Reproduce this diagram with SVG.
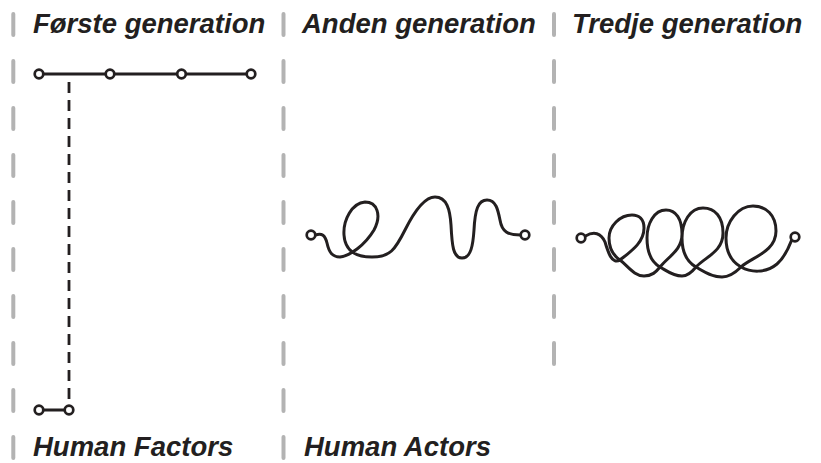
<svg xmlns="http://www.w3.org/2000/svg" width="821" height="463" viewBox="0 0 821 463">
<style>
.bg{fill:#ffffff}
.title{font-family:"Liberation Sans",Arial,sans-serif;font-weight:bold;font-style:italic;font-size:27.5px;fill:#231f20}
.div{stroke:#b3b3b3;stroke-width:4;stroke-linecap:round;stroke-dasharray:21 26;fill:none}
.ln{stroke:#231f20;stroke-width:3;fill:none;stroke-linecap:round;stroke-linejoin:round}
.dash{stroke:#231f20;stroke-width:2.8;fill:none;stroke-dasharray:11 7}
.pt{fill:#ffffff;stroke:#231f20;stroke-width:2.7}
</style>
<rect class="bg" x="0" y="0" width="821" height="463"/>
<g id="dividers">
<line class="div" x1="13.3" y1="14" x2="13.3" y2="460"/>
<line class="div" x1="283.5" y1="14" x2="283.5" y2="460"/>
<line class="div" x1="554" y1="14" x2="554" y2="366"/>
</g>
<g id="labels">
<text class="title" x="33" y="33">Første generation</text>
<text class="title" x="302" y="33">Anden generation</text>
<text class="title" x="572" y="33">Tredje generation</text>
<text class="title" x="33" y="456">Human Factors</text>
<text class="title" x="304" y="456">Human Actors</text>
</g>
<g id="connectors">
<line class="ln" x1="39" y1="74" x2="251" y2="74"/>
<line class="dash" x1="69" y1="82" x2="69" y2="400"/>
<line class="ln" x1="39" y1="410" x2="69" y2="410"/>
<path class="ln" d="M315.5 235 C322 233 325 235 327 243 C329 252 332 257 340 257 C350 256 365 245 374 230 C382 215 377 202 365 202 C352 203 343 220 344 235 C345 250 355 257 372 257 C390 257 395 250 405 230 C415 210 425 197 435 197 C447 197 450 210 451 225 C452 245 453 258 462 258 C471 258 473 245 474 230 C475 210 478 200 487 200 C496 200 498 210 500 220 C502 232 508 235 520.5 235"/>
<path class="ln" d="M585.5 236 C594 231 601 233 605 242 C608 252 612 265 620 260 C630 252 644 243 644 228 C644 219 639 215 632 215 C620 215 609 226 609 238 C609 250 614 256 620 260 C628 266 634 276 644 276 C652 276 656 272 660 267 C669 256 682 250 682 234 C682 219 676 210 666 210 C654 210 647 224 647 238 C647 255 653 263 660 267 C667 271 673 276 682 276 C688 276 692 272 696 267 C705 257 723 252 723 233 C723 217 715 208 703 208 C690 208 682 222 682 238 C682 256 689 263 696 267 C703 271 711 277 722 277 C730 277 736 272 741 267 C752 257 776 252 776 231 C776 215 766 206 753 206 C738 206 726 222 726 238 C726 256 734 263 741 267 C750 272 765 274 777 264 C784 258 789 247 791.5 240.5"/>
</g>
<g id="node-g1-1"><circle class="pt" cx="39" cy="74" r="4.3"/></g>
<g id="node-g1-2"><circle class="pt" cx="110" cy="74" r="4.3"/></g>
<g id="node-g1-3"><circle class="pt" cx="181.5" cy="74" r="4.3"/></g>
<g id="node-g1-4"><circle class="pt" cx="251" cy="74" r="4.3"/></g>
<g id="node-hf-1"><circle class="pt" cx="39" cy="410" r="4.3"/></g>
<g id="node-hf-2"><circle class="pt" cx="69" cy="410" r="4.3"/></g>
<g id="node-g2-1"><circle class="pt" cx="311" cy="235" r="4.3"/></g>
<g id="node-g2-2"><circle class="pt" cx="525" cy="235" r="4.3"/></g>
<g id="node-g3-1"><circle class="pt" cx="581" cy="238" r="4.3"/></g>
<g id="node-g3-2"><circle class="pt" cx="795" cy="237" r="4.3"/></g>
</svg>
